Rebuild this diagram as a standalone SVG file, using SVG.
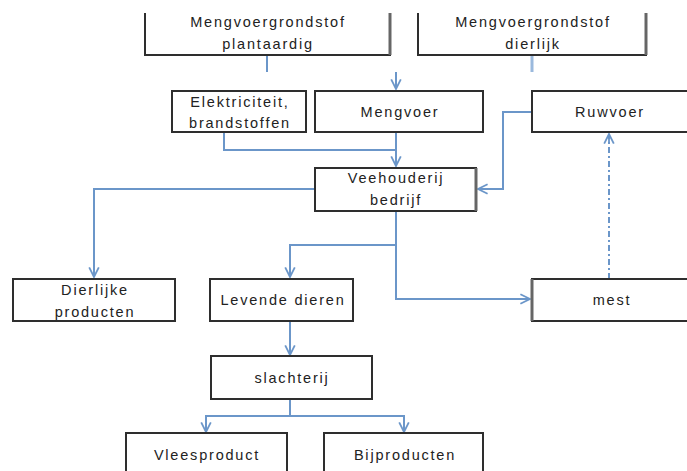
<svg xmlns="http://www.w3.org/2000/svg" width="687" height="471" viewBox="0 0 687 471">
<style>
.box{fill:#fff;stroke:#2e2e2e;stroke-width:2}
.t{font-family:"Liberation Sans",Arial,sans-serif;font-size:14.5px;fill:#222;text-anchor:middle;letter-spacing:1.8px}
.c{fill:none;stroke:#6b96c9;stroke-width:2}
.d{fill:none;stroke:#6b96c9;stroke-width:2;stroke-dasharray:6 3 2 3}
</style>
<defs>
<marker id="a" markerUnits="userSpaceOnUse" viewBox="0 0 10 10" refX="9" refY="5" markerWidth="12" markerHeight="12" orient="auto">
<path d="M1,1 L9,5 L1,9 M1,5 L9,5" fill="none" stroke="#6b96c9" stroke-width="1.5"/>
</marker>
</defs>
<rect width="687" height="471" fill="#fff"/>
<g id="connectors">
<path class="c" d="M267,56 V72"/>
<path d="M532,56 V72" fill="none" stroke="#9ab9dd" stroke-width="3"/>
<path class="c" d="M396,72 V89" marker-end="url(#a)"/>
<path class="c" d="M224,132 V150 H396"/>
<path class="c" d="M396,132 V166" marker-end="url(#a)"/>
<path class="c" d="M532,112 H503 V189 H478" marker-end="url(#a)"/>
<path class="d" d="M609,279 V134" marker-end="url(#a)"/>
<path class="c" d="M315,189 H94 V277" marker-end="url(#a)"/>
<path class="c" d="M396,211 V299 H530" marker-end="url(#a)"/>
<path class="c" d="M396,245 H290 V277" marker-end="url(#a)"/>
<path class="c" d="M290,321 V355" marker-end="url(#a)"/>
<path class="c" d="M290,399 V416 H206 V432" marker-end="url(#a)"/>
<path class="c" d="M290,416 H404 V432" marker-end="url(#a)"/>
</g>
<g id="n-plantaardig">
<path d="M145,13 V55 H390 V13" fill="#fff" stroke="#2e2e2e" stroke-width="2"/>
<path d="M390,13 V55" stroke="#666" stroke-width="3"/>
<text class="t" x="268" y="27">Mengvoergrondstof</text>
<text class="t" x="268" y="49">plantaardig</text>
</g>
<g id="n-dierlijk">
<path d="M418,13 V55 H646 V13" fill="#fff" stroke="#2e2e2e" stroke-width="2"/>
<path d="M646,13 V55" stroke="#666" stroke-width="3"/>
<text class="t" x="533" y="27">Mengvoergrondstof</text>
<text class="t" x="533" y="49">dierlijk</text>
</g>
<g id="n-elektriciteit">
<rect class="box" x="172" y="91" width="134" height="41"/>
<text class="t" x="240" y="107">Elektriciteit,</text>
<text class="t" x="240" y="128">brandstoffen</text>
</g>
<g id="n-mengvoer">
<rect class="box" x="315" y="91" width="168" height="41"/>
<text class="t" x="400" y="117">Mengvoer</text>
</g>
<g id="n-ruwvoer">
<rect class="box" x="532" y="91" width="170" height="41" stroke="#555"/>
<text class="t" x="610" y="117">Ruwvoer</text>
</g>
<g id="n-veehouderij">
<rect class="box" x="315" y="168" width="161" height="43"/>
<path d="M476,168 V211" stroke="#666" stroke-width="3"/>
<text class="t" x="396" y="183">Veehouderij</text>
<text class="t" x="396" y="205">bedrijf</text>
</g>
<g id="n-dierlijke-producten">
<rect class="box" x="13" y="279" width="162" height="42"/>
<text class="t" x="95" y="295">Dierlijke</text>
<text class="t" x="95" y="317">producten</text>
</g>
<g id="n-levende-dieren">
<rect class="box" x="210" y="279" width="143" height="42"/>
<text class="t" x="283" y="305">Levende dieren</text>
</g>
<g id="n-mest">
<rect class="box" x="532" y="279" width="170" height="42"/>
<path d="M532,279 V321" stroke="#666" stroke-width="3"/>
<text class="t" x="612" y="305">mest</text>
</g>
<g id="n-slachterij">
<rect class="box" x="211" y="356" width="161" height="43"/>
<text class="t" x="292" y="383">slachterij</text>
</g>
<g id="n-vleesproduct">
<rect class="box" x="126" y="433" width="161" height="60"/>
<text class="t" x="207" y="460">Vleesproduct</text>
</g>
<g id="n-bijproducten">
<rect class="box" x="324" y="433" width="159" height="60"/>
<text class="t" x="405" y="460">Bijproducten</text>
</g>
</svg>
